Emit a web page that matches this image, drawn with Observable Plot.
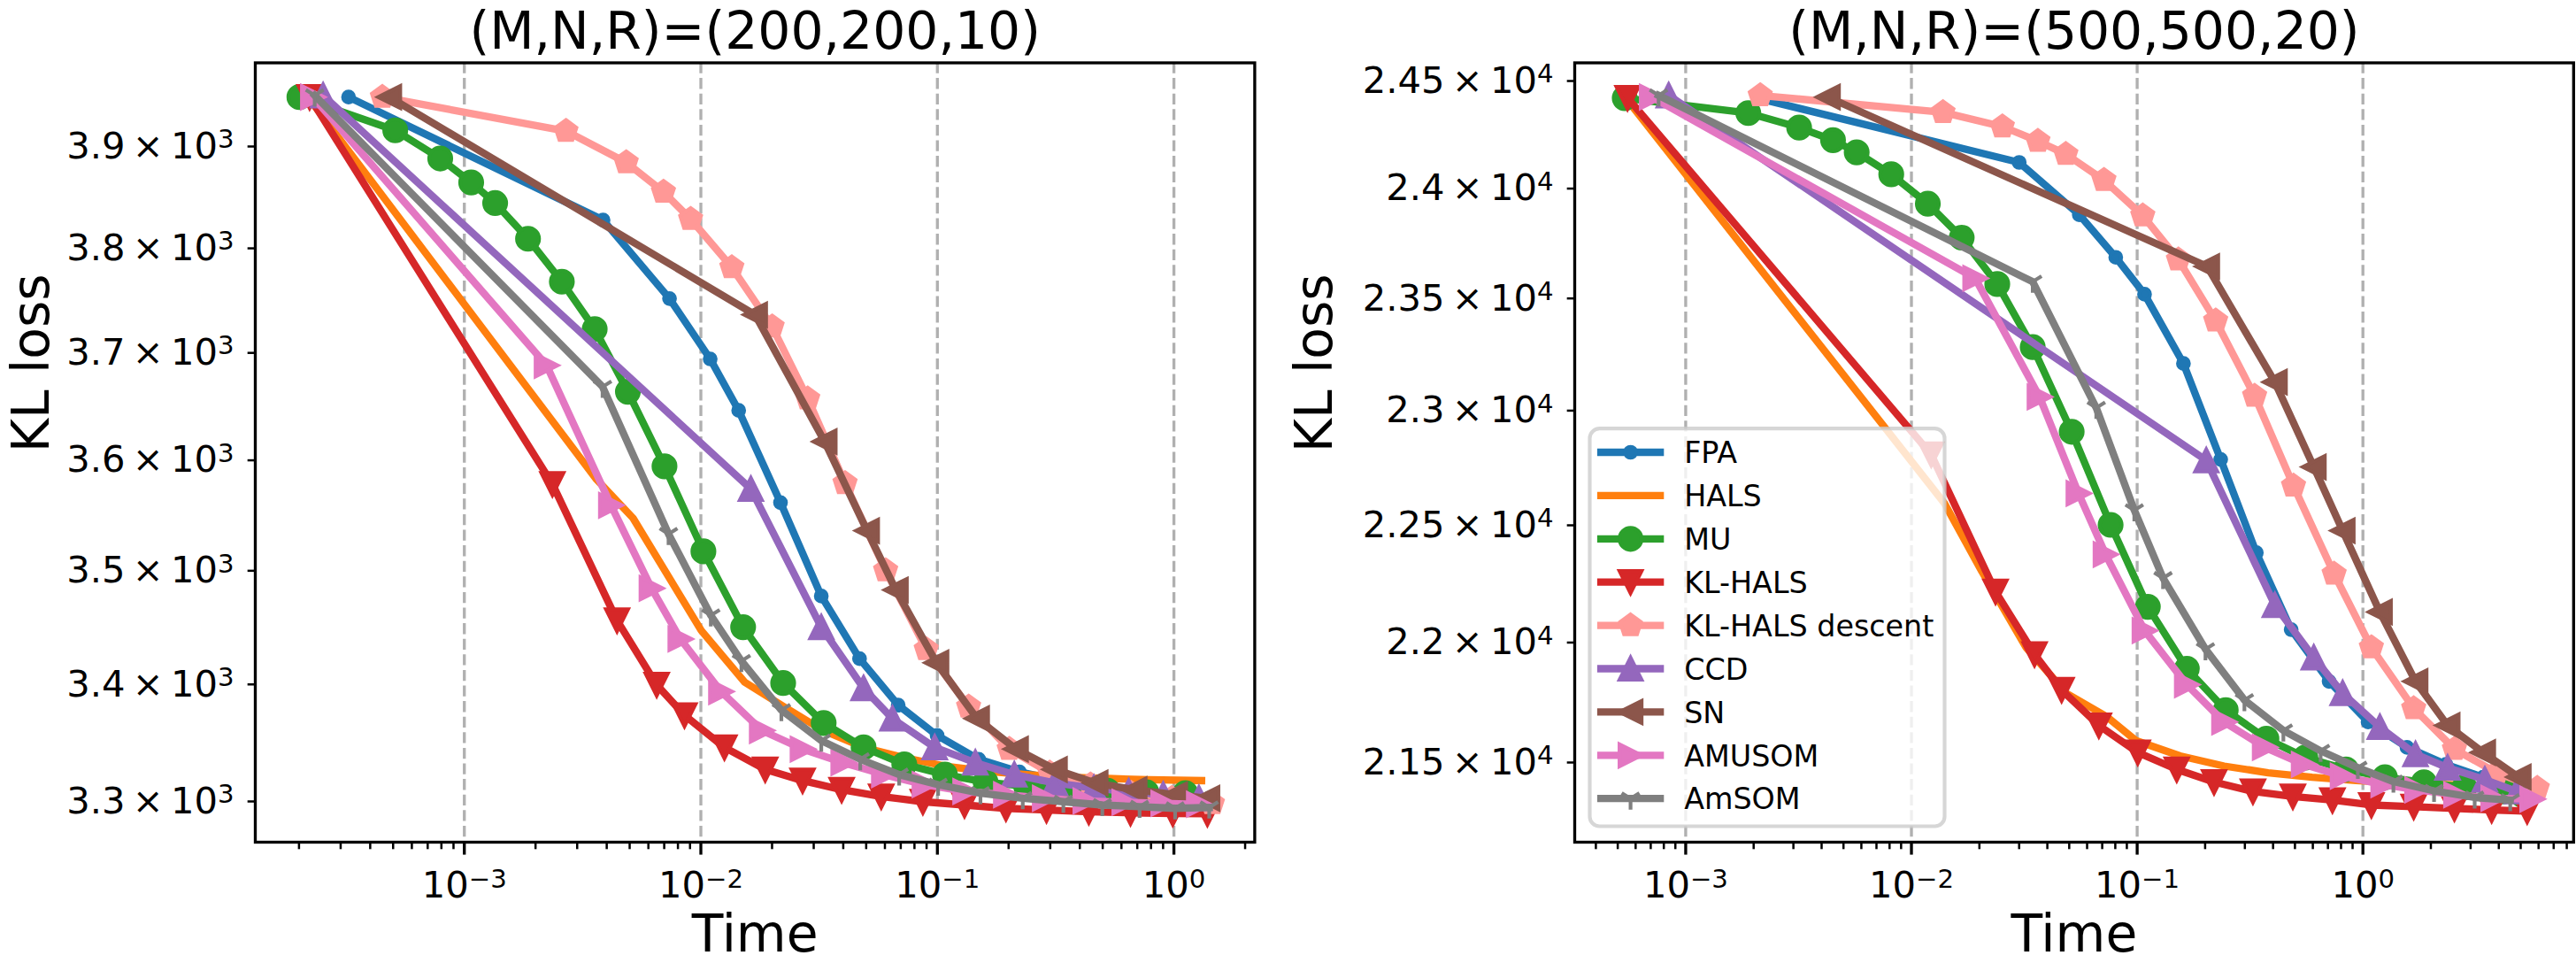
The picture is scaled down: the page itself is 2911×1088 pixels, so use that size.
<!DOCTYPE html>
<html>
<head>
<meta charset="utf-8">
<script src="https://cdn.jsdelivr.net/npm/d3@7"></script>
<script src="https://cdn.jsdelivr.net/npm/@observablehq/plot@0.6"></script>
<style>
  html, body { margin: 0; padding: 0; background: #fff; }
  #fig { position: relative; width: 2911px; height: 1088px; overflow: hidden; background: #fff; }
  #fig > svg { position: absolute; top: 0; }
</style>
</head>
<body>
<div id="fig"></div>
<script>
// ---- Problem (M,N,R) = (200,200,10): elapsed time (s) and KL loss per solver ----
const fpaTime200 = [3.24e-4, 3.86e-3, 7.37e-3, 1.095e-2, 1.445e-2, 2.171e-2, 3.229e-2, 4.686e-2, 6.828e-2, 9.975e-2, 0.1495, 0.2222, 0.3301, 0.4899, 0.7275, 1.081, 1.408];
const fpaLoss200 = [3949.5, 3827.5, 3751.6, 3694.3, 3646.1, 3561.4, 3477.5, 3422.4, 3382.1, 3356.0, 3335.7, 3325.0, 3317.6, 3312.7, 3308.4, 3305.6, 3302.7];
const halsTime200 = [2.182e-4, 3.593e-3, 5.164e-3, 1.004e-2, 1.533e-2, 2.247e-2, 3.282e-2, 4.875e-2, 7.245e-2, 0.1076, 0.1598, 0.2372, 0.3523, 0.5236, 0.7778, 1.309];
const halsLoss200 = [3949.5, 3583.4, 3547.4, 3447.0, 3401.9, 3380.7, 3360.3, 3345.8, 3337.1, 3329.9, 3325.6, 3322.7, 3320.5, 3319.4, 3318.4, 3317.6];
const muTime200 = [2.008e-4, 5.104e-4, 7.909e-4, 1.069e-3, 1.350e-3, 1.859e-3, 2.584e-3, 3.558e-3, 4.915e-3, 7.018e-3, 1.025e-2, 1.509e-2, 2.228e-2, 3.305e-2, 4.875e-2, 7.245e-2, 0.1076, 0.1598, 0.2372, 0.3523, 0.5236, 0.7651, 1.118];
const muLoss200 = [3949.5, 3916.1, 3888.1, 3864.4, 3844.1, 3809.3, 3767.8, 3722.6, 3663.5, 3594.5, 3517.4, 3450.0, 3401.2, 3366.7, 3345.8, 3331.4, 3322.7, 3316.4, 3312.7, 3310.8, 3309.0, 3307.8, 3307.0];
const klhalsTime200 = [2.217e-4, 2.357e-3, 4.421e-3, 6.505e-3, 8.526e-3, 1.258e-2, 1.871e-2, 2.692e-2, 3.937e-2, 5.788e-2, 8.683e-2, 0.1302, 0.1949, 0.2892, 0.4367, 0.6552, 0.989, 1.385];
const klhalsLoss200 = [3949.5, 3578.3, 3456.0, 3399.7, 3373.4, 3345.8, 3327.1, 3317.6, 3309.9, 3304.2, 3299.8, 3297.0, 3294.2, 3292.8, 3291.4, 3290.5, 3289.9, 3289.7];
const descTime200 = [4.503e-4, 2.689e-3, 4.834e-3, 6.947e-3, 9.05e-3, 1.352e-2, 2.001e-2, 2.830e-2, 4.069e-2, 6.042e-2, 8.971e-2, 0.1355, 0.2012, 0.2988, 0.4438, 0.6597, 0.9795, 1.454];
const descLoss200 = [3949.5, 3915.4, 3884.2, 3855.1, 3828.5, 3781.6, 3724.9, 3657.1, 3579.0, 3500.3, 3430.6, 3380.7, 3344.4, 3324.2, 3314.2, 3307.0, 3302.7, 3298.4];
const ccdTime200 = [2.529e-4, 1.627e-2, 3.229e-2, 4.875e-2, 6.455e-2, 9.745e-2, 0.1447, 0.2114, 0.3139, 0.4589, 0.6439, 0.901, 1.275];
const ccdLoss200 = [3951.1, 3573.8, 3450.0, 3396.7, 3370.5, 3345.8, 3332.8, 3322.7, 3315.6, 3311.3, 3308.3, 3305.6, 3302.7];
const snTime200 = [4.813e-4, 1.695e-2, 3.337e-2, 5.042e-2, 6.671e-2, 9.906e-2, 0.1471, 0.2149, 0.3139, 0.4665, 0.6818, 1.012, 1.385];
const snLoss200 = [3949.5, 3736.2, 3617.2, 3536.0, 3482.9, 3418.8, 3370.5, 3344.4, 3327.1, 3315.6, 3309.9, 3305.6, 3302.7];
const amusomTime200 = [2.291e-4, 2.228e-3, 4.168e-3, 6.187e-3, 8.195e-3, 1.217e-2, 1.810e-2, 2.692e-2, 4.002e-2, 5.943e-2, 8.825e-2, 0.1311, 0.1949, 0.2845, 0.4225, 0.6172, 0.9019, 1.275];
const amusomLoss200 = [3949.5, 3688.2, 3559.0, 3484.4, 3439.6, 3393.8, 3360.3, 3344.4, 3332.8, 3322.7, 3314.2, 3308.4, 3305.6, 3302.7, 3300.4, 3299.3, 3298.4, 3297.6];
const amsomTime200 = [2.331e-4, 3.841e-3, 7.301e-3, 1.102e-2, 1.484e-2, 2.190e-2, 3.229e-2, 4.719e-2, 6.893e-2, 0.1007, 0.1521, 0.2296, 0.3409, 0.4981, 0.7159, 1.012, 1.41];
const amsomLoss200 = [3951.1, 3668.2, 3533.0, 3460.4, 3420.4, 3377.8, 3351.6, 3335.7, 3322.7, 3314.2, 3307.0, 3302.7, 3299.8, 3297.0, 3295.6, 3294.2, 3295.0];

// ---- Problem (M,N,R) = (500,500,20) ----
const fpaTime500 = [2.138e-3, 3.002e-2, 5.540e-2, 8.037e-2, 0.1078, 0.1603, 0.2344, 0.3371, 0.4810, 0.7084, 1.054, 1.568, 2.332, 3.409, 4.572];
const fpaLoss500 = [24416.6, 24120.6, 23880.0, 23685.9, 23519.0, 23208.7, 22785.8, 22382.4, 22054.8, 21837.0, 21667.7, 21562.5, 21492.4, 21439.6, 21401.8];
const halsTime500 = [5.463e-4, 1.403e-2, 2.049e-2, 3.218e-2, 4.875e-2, 7.317e-2, 9.883e-2, 0.1549, 0.2427, 0.3803, 0.5957, 0.9337, 1.462, 2.293, 4.486];
const halsLoss500 = [24416.6, 22594.1, 22302.4, 21979.3, 21786.3, 21690.4, 21590.3, 21527.4, 21485.4, 21457.7, 21439.6, 21425.7, 21415.9, 21409.0, 21401.8];
const muTime500 = [5.369e-4, 1.894e-3, 3.181e-3, 4.494e-3, 5.721e-3, 8.139e-3, 1.182e-2, 1.670e-2, 2.400e-2, 3.446e-2, 5.127e-2, 7.627e-2, 0.1115, 0.1660, 0.2468, 0.3738, 0.5561, 0.8416, 1.252, 1.863, 2.818, 4.197, 5.073];
const muLoss500 = [24419.9, 24350.0, 24282.4, 24223.9, 24167.3, 24065.8, 23930.3, 23775.3, 23564.9, 23281.9, 22907.1, 22501.9, 22151.2, 21889.7, 21717.0, 21598.0, 21520.5, 21471.6, 21439.6, 21418.8, 21397.8, 21381.1, 21367.3];
const klhalsTime500 = [5.523e-4, 1.223e-2, 2.358e-2, 3.510e-2, 4.626e-2, 6.765e-2, 0.1006, 0.1497, 0.2190, 0.3257, 0.4893, 0.7328, 1.090, 1.679, 2.543, 3.718, 5.340];
const klhalsLoss500 = [24421.2, 22807.8, 22215.9, 21950.7, 21801.5, 21653.3, 21541.3, 21471.6, 21419.9, 21381.1, 21360.4, 21345.6, 21325.7, 21318.8, 21311.9, 21305.1, 21300.7];
const descTime500 = [2.138e-3, 1.380e-2, 2.527e-2, 3.633e-2, 4.831e-2, 7.123e-2, 0.1059, 0.1523, 0.2227, 0.3314, 0.4928, 0.7456, 1.090, 1.679, 2.543, 3.914, 5.923];
const descLoss500 = [24432.4, 24353.3, 24286.9, 24219.4, 24159.1, 24038.9, 23875.9, 23675.1, 23400.0, 23064.6, 22670.9, 22291.4, 21979.3, 21724.0, 21555.5, 21457.7, 21394.9];
const ccdTime500 = [8.41e-4, 0.2023, 0.4074, 0.6058, 0.8133, 1.189, 1.710, 2.372, 3.469, 4.818];
const ccdLoss500 = [24432.4, 22781.9, 22158.3, 21936.6, 21787.4, 21646.3, 21534.3, 21478.5, 21429.7, 21381.1];
const snTime500 = [4.266e-3, 0.2042, 0.4074, 0.6058, 0.8133, 1.189, 1.710, 2.372, 3.409, 4.900];
const snLoss500 = [24424.5, 23644.6, 23126.1, 22753.3, 22477.1, 22129.4, 21837.0, 21653.3, 21541.3, 21440.0];
const amusomTime500 = [7.078e-4, 1.917e-2, 3.695e-2, 5.496e-2, 7.245e-2, 0.1078, 0.1660, 0.2427, 0.3675, 0.5467, 0.8133, 1.231, 1.739, 2.587, 3.783, 5.627];
const amusomLoss500 = [24424.5, 23590.9, 23060.7, 22638.2, 22375.2, 22050.7, 21823.0, 21667.7, 21562.5, 21492.4, 21443.6, 21409.0, 21388.0, 21367.3, 21353.5, 21350.0];
const amsomTime500 = [7.586e-4, 3.446e-2, 6.589e-2, 9.714e-2, 0.1302, 0.2007, 0.2986, 0.4443, 0.6496, 0.9497, 1.365, 2.066, 3.127, 4.494];
const amsomLoss500 = [24432.4, 23575.3, 23012.2, 22565.0, 22273.6, 21972.3, 21759.0, 21632.4, 21548.2, 21478.5, 21421.7, 21383.6, 21356.4, 21345.6];

// ---- Labels and ticks ----
const methods = ["FPA", "HALS", "MU", "KL-HALS", "KL-HALS descent", "CCD", "SN", "AMUSOM", "AmSOM"];
const titles = ["(M,N,R)=(200,200,10)", "(M,N,R)=(500,500,20)"];
const timeTicks = [1e-3, 1e-2, 1e-1, 1];
const lossTicks200 = [3300, 3400, 3500, 3600, 3700, 3800, 3900];
const lossTicks500 = [21500, 22000, 22500, 23000, 23500, 24000, 24500];

// ---- Styles ----
const colors = ["#1f77b4", "#ff7f0e", "#2ca02c", "#d62728", "#ff9896", "#9467bd", "#8c564b", "#e377c2", "#7f7f7f"];
const markerKinds = ["point", null, "circle", "triDownFilled", "pentagon", "triUp", "triLeft", "triRight", "tri"];

const FONT = "DejaVu Sans";
const PT = 300 / 72;          // pixels per point
const LW = 2 * PT;            // line width
const MS = 3 * PT;            // marker half-size
const MEW = 1 * PT;           // marker edge width

// marker shapes, drawn around the origin with half-size r
function polygon(pts) {
  return {
    draw(ctx, size) {
      const r = Math.sqrt(size / Math.PI);
      pts.forEach(([x, y], i) => (i ? ctx.lineTo(x * r, y * r) : ctx.moveTo(x * r, y * r)));
      ctx.closePath();
    }
  };
}
const shapes = {
  triDownFilled: polygon([[0, 1], [-1, -1], [1, -1]]),
  triUp: polygon([[0, -1], [-1, 1], [1, 1]]),
  triLeft: polygon([[-1, 0], [1, -1], [1, 1]]),
  triRight: polygon([[1, 0], [-1, -1], [-1, 1]]),
  pentagon: polygon(d3.range(5).map(k => {
    const a = -Math.PI / 2 + k * 2 * Math.PI / 5;
    return [Math.cos(a), Math.sin(a)];
  })),
  tri: {
    draw(ctx, size) {
      const r = Math.sqrt(size / Math.PI);
      ctx.moveTo(0, 0); ctx.lineTo(0, r);
      ctx.moveTo(0, 0); ctx.lineTo(0.8 * r, -0.5 * r);
      ctx.moveTo(0, 0); ctx.lineTo(-0.8 * r, -0.5 * r);
    }
  }
};

function markerStyle(kind, color) {
  switch (kind) {
    case "point": return {symbol: "circle", r: MS / 2, fill: color, stroke: color, strokeWidth: MEW};
    case "circle": return {symbol: "circle", r: MS, fill: color, stroke: color, strokeWidth: MEW};
    case "tri": return {symbol: shapes.tri, r: MS, fill: "none", stroke: color, strokeWidth: MEW, strokeLinecap: "butt"};
    default: return {symbol: shapes[kind], r: MS, fill: color, stroke: color, strokeWidth: MEW, strokeLinejoin: "miter"};
  }
}

function seriesMarks(times, losses, i) {
  const data = times.map((t, j) => ({t, loss: losses[j]}));
  const marks = [Plot.line(data, {x: "t", y: "loss", stroke: colors[i], strokeWidth: LW, strokeLinejoin: "round", strokeLinecap: "square"})];
  if (markerKinds[i]) marks.push(Plot.dot(data, {x: "t", y: "loss", ...markerStyle(markerKinds[i], colors[i])}));
  return marks;
}

function minorTicks(domain) {
  const out = [];
  for (let e = -5; e <= 1; e++) for (let m = 2; m <= 9; m++) {
    const v = m * Math.pow(10, e);
    if (v >= domain[0] && v <= domain[1]) out.push(v);
  }
  return out;
}

const expLabel = d => "10^" + String(Math.round(Math.log10(d))).replace("-", "\u2212");

function panel({title, series, xDomain, yDomain, yTicks, yFormat, width, marginLeft, marginRight, yLabelDx}) {
  const marks = [
    Plot.ruleX(timeTicks, {stroke: "#b0b0b0", strokeWidth: 0.8 * PT, strokeDasharray: "12.3,5.3"}),
    ...series.flatMap(([t, l], i) => seriesMarks(t, l, i)),
    Plot.frame({stroke: "black", strokeWidth: 0.8 * PT}),
    Plot.axisX(minorTicks(xDomain), {tickSize: 2 * PT, strokeWidth: 0.6 * PT, tickFormat: () => "", label: null}),
    Plot.axisX(timeTicks, {tickSize: 3.5 * PT, strokeWidth: 0.8 * PT, tickPadding: 18.8, fontSize: 10 * PT, tickFormat: expLabel, label: null}),
    Plot.axisY(yTicks, {tickSize: 2 * PT, strokeWidth: 0.6 * PT, tickPadding: 15.5, fontSize: 10 * PT, tickFormat: yFormat, label: null}),
    Plot.text([title], {frameAnchor: "top", text: d => d, dy: -16.5, lineAnchor: "bottom", fontSize: 14 * PT}),
    Plot.text(["Time"], {frameAnchor: "bottom", text: d => d, dy: 123, lineAnchor: "bottom", fontSize: 14 * PT}),
    Plot.text(["KL loss"], {frameAnchor: "left", text: d => d, rotate: -90, dx: yLabelDx, lineAnchor: "bottom", fontSize: 14 * PT})
  ];
  const svg = Plot.plot({
    width, height: 1088,
    marginLeft, marginRight, marginTop: 70.5, marginBottom: 137,
    x: {type: "log", domain: xDomain},
    y: {type: "log", domain: yDomain},
    style: {fontFamily: FONT, background: "transparent", overflow: "visible", color: "black"},
    marks
  });
  // typeset "base^exponent" tick labels with a raised, smaller exponent
  d3.select(svg).selectAll("text").each(function () {
    const s = this.textContent;
    const k = s.indexOf("^");
    if (k < 0) return;
    const sel = d3.select(this);
    sel.text(null);
    sel.append("tspan").text(s.slice(0, k));
    sel.append("tspan").attr("font-size", 0.7 * 10 * PT).attr("dy", -0.28 * 10 * PT).text(s.slice(k + 1));
  });
  return svg;
}

const fig = document.getElementById("fig");

const left = panel({
  title: titles[0],
  series: [[fpaTime200, fpaLoss200], [halsTime200, halsLoss200], [muTime200, muLoss200], [klhalsTime200, klhalsLoss200],
           [descTime200, descLoss200], [ccdTime200, ccdLoss200], [snTime200, snLoss200], [amusomTime200, amusomLoss200], [amsomTime200, amsomLoss200]],
  xDomain: [1.307e-4, 2.196], yDomain: [3265.9, 3984.1],
  yTicks: lossTicks200, yFormat: d => `${d / 1000}\u2009\u00d7\u200910^3`,
  width: 1456, marginLeft: 288, marginRight: 38.6, yLabelDx: -234
});
left.style.left = "0px";
fig.appendChild(left);

const right = panel({
  title: titles[1],
  series: [[fpaTime500, fpaLoss500], [halsTime500, halsLoss500], [muTime500, muLoss500], [klhalsTime500, klhalsLoss500],
           [descTime500, descLoss500], [ccdTime500, ccdLoss500], [snTime500, snLoss500], [amusomTime500, amusomLoss500], [amsomTime500, amsomLoss500]],
  xDomain: [3.2236e-4, 8.578], yDomain: [21174.2, 24585.4],
  yTicks: lossTicks500, yFormat: d => `${d / 10000}\u2009\u00d7\u200910^4`,
  width: 1455, marginLeft: 323, marginRight: 3.2, yLabelDx: -275
});
right.style.left = "1456px";
fig.appendChild(right);

// legend, placed over the lower-left corner of the second panel
const leg = d3.select(fig).append("svg")
  .attr("width", 2911).attr("height", 1088)
  .style("left", "0px").style("pointer-events", "none");
leg.append("rect")
  .attr("x", 1796.5).attr("y", 484.2).attr("width", 401).attr("height", 449.3).attr("rx", 11)
  .attr("fill", "white").attr("fill-opacity", 0.8)
  .attr("stroke", "#cccccc").attr("stroke-opacity", 0.8).attr("stroke-width", PT);
methods.forEach((name, i) => {
  const cy = 511 + i * 48.9;
  const g = leg.append("g");
  g.append("line").attr("x1", 1804.9).attr("x2", 1880.3).attr("y1", cy).attr("y2", cy)
    .attr("stroke", colors[i]).attr("stroke-width", LW);
  const kind = markerKinds[i];
  if (kind) {
    const st = markerStyle(kind, colors[i]);
    const type = typeof st.symbol === "string" ? d3.symbolCircle : st.symbol;
    g.append("path")
      .attr("d", d3.symbol(type, Math.PI * st.r * st.r)())
      .attr("transform", `translate(1842.6,${cy})`)
      .attr("fill", st.fill).attr("stroke", st.stroke).attr("stroke-width", st.strokeWidth)
      .attr("stroke-linejoin", st.strokeLinejoin || "round").attr("stroke-linecap", st.strokeLinecap || "butt");
  }
  g.append("text").attr("x", 1903.2).attr("y", cy + 12.2)
    .attr("font-family", FONT).attr("font-size", 8 * PT).attr("fill", "black").text(name);
});
</script>
</body>
</html>
